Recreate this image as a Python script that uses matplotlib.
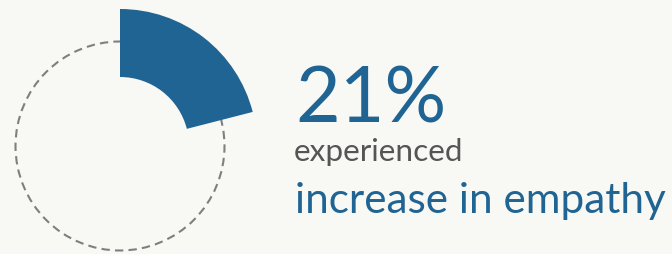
import matplotlib.pyplot as plt
from matplotlib.patches import Wedge, Circle

# Data
pct_value = 21
big_label = f"{pct_value}%"
sub_label = "experienced"
main_label = "increase in empathy"

BLUE = "#206493"
GRAY_TEXT = "#555555"
DASH_GRAY = "#7f7f7f"
BG = "#f8f8f4"

plt.rcParams['font.family'] = ['Lato', 'DejaVu Sans']

fig = plt.figure(figsize=(6.72, 2.55), dpi=100, facecolor=BG)
ax = fig.add_axes([0, 0, 1, 1])
ax.set_facecolor(BG)
ax.set_xlim(0, 672)
ax.set_ylim(255, 0)
ax.set_aspect('equal')
ax.axis('off')

# dashed full ring
cx, cy = 120, 147
ax.add_patch(Circle((cx, cy), 104.5, fill=False, edgecolor=DASH_GRAY,
                    linewidth=1.5, linestyle=(0, (4, 2.5))))

# filled wedge for the share (y axis inverted -> angles measured clockwise)
sweep = pct_value / 100 * 360
ax.add_patch(Wedge((cx, cy), 137, 270, 270 + sweep, width=68,
                   facecolor=BLUE, edgecolor='none'))

# text block, each line fitted to the width it takes in the original
renderer = fig.canvas.get_renderer()


def fit_text(x, y, s, size, color, target_w):
    t = ax.text(x, y, s, fontsize=size, color=color, va='baseline', ha='left')
    w = t.get_window_extent(renderer).width
    t.set_fontsize(size * target_w / w)
    return t


fit_text(295, 123, big_label, 56, BLUE, 151)
fit_text(293.5, 161.5, sub_label, 23.5, GRAY_TEXT, 169)
fit_text(295, 213, main_label, 31, BLUE, 369)

fig.savefig("out.png", dpi=100, facecolor=BG)
